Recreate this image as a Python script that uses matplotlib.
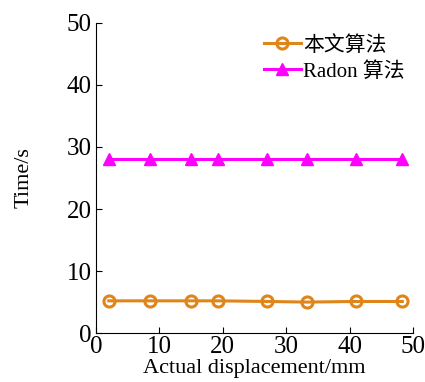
import matplotlib
matplotlib.use("Agg")
import matplotlib.pyplot as plt

x_vals = [2, 8.5, 15, 19.2, 27, 33.3, 41, 48.3]
ours = [5.2, 5.2, 5.2, 5.2, 5.1, 5.0, 5.1, 5.1]
radon = [28, 28, 28, 28, 28, 28, 28, 28]
labels = ["本文算法", "Radon 算法"]
xticks = [0, 10, 20, 30, 40, 50]
yticks = [0, 10, 20, 30, 40, 50]

fam = ["Liberation Serif", "Noto Sans CJK SC"]
plt.rcParams["font.family"] = fam

fig = plt.figure(figsize=(4.25, 3.82), dpi=100)
ax = fig.add_axes([0.226, 0.128, 0.746, 0.812])

ax.plot(x_vals, ours, color="#E0851A", lw=2.2, marker="o", ms=8,
        mfc="none", mec="#E0851A", mew=2.2, label=labels[0])
ax.plot(x_vals, radon, color="#FF00FF", lw=2.2, marker="^", ms=9,
        mfc="#FF00FF", mec="#FF00FF", label=labels[1])

ax.set_xlim(0, 50)
ax.set_ylim(0, 50)
ax.set_xticks(xticks)
ax.set_yticks(yticks)
ax.spines["top"].set_visible(False)
ax.spines["right"].set_visible(False)
ax.tick_params(direction="in", labelsize=18, length=4)
ax.tick_params(axis="x", pad=2)
ax.tick_params(axis="y", pad=3)
ax.set_xlabel("Actual displacement/mm", fontsize=16, labelpad=1)
ax.set_ylabel("Time/s", fontsize=16, labelpad=24)

leg = ax.legend(loc="upper right", frameon=False, fontsize=15,
                handlelength=1.8, handletextpad=0.1, borderaxespad=0.0,
                labelspacing=0.3, bbox_to_anchor=(1.0, 0.985))

fig.savefig("out.png", dpi=100)
